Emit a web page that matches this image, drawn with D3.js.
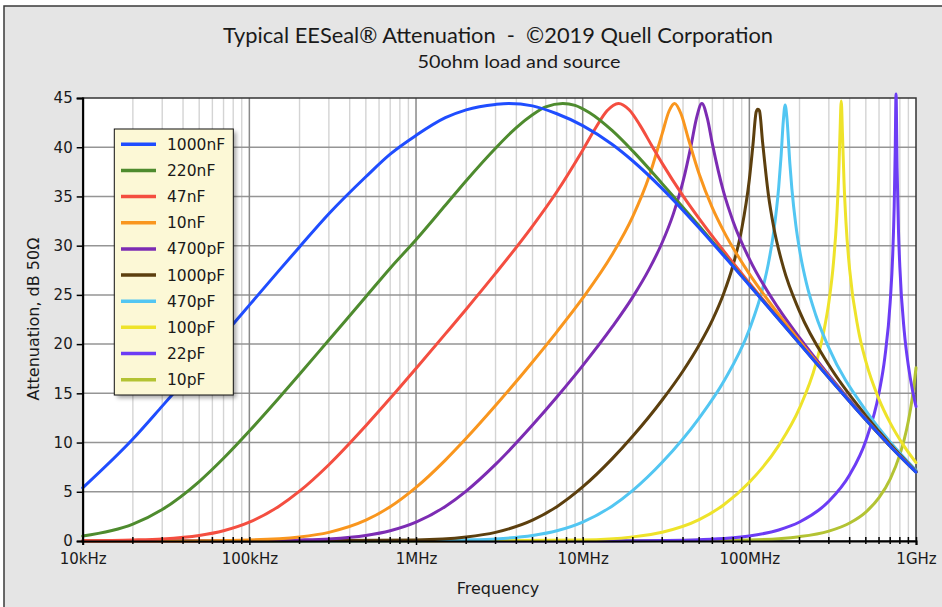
<!DOCTYPE html>
<html>
<head>
<meta charset="utf-8">
<script src="https://cdn.jsdelivr.net/npm/d3@7/dist/d3.min.js"></script>
<style>
  html, body { margin: 0; padding: 0; background: #fff; }
  svg { display: block; }
  text { white-space: pre; }
</style>
</head>
<body>
<div id="chart"></div>
<script>
(function () {
    "use strict";

    // ---- data: [frequency Hz, attenuation dB] ----
    const c1000nF = [[1e4,5.40],[2e4,10.36],[3e4,13.7],[5e4,18.0],[7e4,20.9],[1e5,23.96],[1.5e5,27.44],[2e5,29.87],[3e5,33.24],[5e5,37.0],[7e5,39.3],[1e6,41.2],[1.5e6,43.0],[2e6,43.8],[3e6,44.35],[3.6e6,44.45],[5e6,44.2],[7e6,43.4],[1e7,42.2],[1.5e7,40.3],[2e7,38.6],[3e7,35.8],[5e7,31.8],[7e7,29.0],[1e8,25.98],[2e8,20.05],[3e8,16.58],[5e8,12.31],[7e8,9.63],[1e9,6.99]];
    const c220nF = [[1e4,0.50],[2e4,1.71],[3e4,3.20],[5e4,6.04],[7e4,8.40],[1e5,11.17],[1.5e5,14.50],[2e5,16.93],[3e5,20.42],[5e5,24.81],[7e5,27.71],[1e6,30.6],[1.5e6,34.1],[2e6,36.6],[3e6,39.9],[4e6,42.0],[5e6,43.3],[6e6,44.1],[7.6e6,44.45],[9e6,44.25],[1.1e7,43.5],[1.5e7,41.7],[2e7,39.6],[3e7,36.3],[5e7,32.0],[7e7,29.1],[1e8,26.03],[2e8,20.06],[3e8,16.59],[5e8,12.31],[7e8,9.63],[1e9,6.99]];
    const c47nF = [[1e4,0.02],[2e4,0.10],[3e4,0.21],[5e4,0.56],[7e4,1.04],[1e5,1.91],[1.5e5,3.51],[2e5,5.06],[3e5,7.75],[5e5,11.71],[7e5,14.49],[1e6,17.53],[1.5e6,21.04],[2e6,23.55],[3e6,27.18],[5e6,31.99],[7e6,35.48],[1e7,39.70],[1.2e7,42.0],[1.4e7,43.7],[1.64e7,44.45],[1.9e7,43.8],[2.2e7,42.27],[2.6e7,40.15],[3e7,38.36],[4e7,35.06],[5e7,32.74],[7e7,29.48],[1e8,26.21],[2e8,20.11],[3e8,16.61],[5e8,12.32],[7e8,9.64],[1e9,7.0]];
    const c10nF = [[1e4,0.0],[3e4,0.01],[1e5,0.11],[2e5,0.41],[3e5,0.88],[5e5,2.11],[7e5,3.47],[1e6,5.44],[1.5e6,8.22],[2e6,10.43],[3e6,13.76],[5e6,18.19],[7e6,21.25],[1e7,24.66],[1.5e7,29.07],[2e7,32.98],[2.5e7,37.0],[3e7,41.38],[3.3e7,43.68],[3.56e7,44.45],[3.9e7,43.35],[4.3e7,40.89],[5e7,37.27],[6e7,33.84],[7e7,31.5],[1e8,27.13],[1.5e8,23.03],[2e8,20.33],[3e8,16.70],[5e8,12.35],[7e8,9.65],[1e9,7.0]];
    const c4700pF = [[1e4,0.0],[1e5,0.02],[2e5,0.10],[3e5,0.21],[5e5,0.56],[7e5,1.04],[1e6,1.91],[1.5e6,3.51],[2e6,5.07],[3e6,7.78],[5e6,11.78],[7e6,14.63],[1e7,17.82],[1.5e7,21.72],[2e7,24.8],[2.5e7,27.59],[3e7,30.32],[3.5e7,33.23],[4e7,36.52],[4.5e7,40.42],[4.8e7,42.83],[5.19e7,44.45],[5.6e7,42.92],[6e7,40.34],[7e7,35.48],[8e7,32.44],[1e8,28.65],[1.5e8,23.6],[2e8,20.65],[3e8,16.84],[5e8,12.40],[7e8,9.67],[1e9,7.01]];
    const c1000pF = [[1e4,0.0],[1e5,0.0],[1e6,0.11],[2e6,0.41],[3e6,0.88],[5e6,2.11],[7e6,3.49],[1e7,5.49],[1.5e7,8.34],[2e7,10.66],[3e7,14.32],[4e7,17.27],[5e7,19.91],[6e7,22.44],[7e7,25.09],[8e7,28.06],[9e7,31.69],[1e8,36.72],[1.05e8,40.16],[1.1e8,43.6],[1.125e8,43.85],[1.15e8,43.7],[1.2e8,40.57],[1.3e8,35.23],[1.4e8,31.89],[1.6e8,27.79],[2e8,23.33],[3e8,17.87],[5e8,12.74],[7e8,9.83],[1e9,7.08]];
    const c470pF = [[1e4,0.0],[1e6,0.02],[2e6,0.10],[3e6,0.21],[5e6,0.56],[7e6,1.04],[1e7,1.92],[1.5e7,3.54],[2e7,5.15],[3e7,8.0],[5e7,12.49],[7e7,16.17],[1e8,21.48],[1.2e8,25.6],[1.3e8,28.17],[1.4e8,31.41],[1.5e8,35.93],[1.55e8,39.06],[1.6e8,42.73],[1.64e8,44.3],[1.68e8,43.01],[1.75e8,38.36],[1.8e8,35.77],[1.9e8,32.11],[2e8,29.6],[2.2e8,26.19],[2.5e8,22.99],[3e8,19.62],[5e8,13.25],[7e8,10.07],[1e9,7.19]];
    const c100pF = [[1e4,0.0],[1e6,0.0],[1e7,0.11],[2e7,0.42],[3e7,0.89],[5e7,2.17],[7e7,3.66],[1e8,5.96],[1.5e8,9.69],[2e8,13.49],[2.5e8,17.91],[2.8e8,21.33],[3e8,24.26],[3.2e8,28.33],[3.35e8,33.02],[3.45e8,38.03],[3.5e8,41.51],[3.56e8,44.7],[3.62e8,41.41],[3.7e8,36.44],[3.8e8,32.37],[4e8,27.53],[4.5e8,21.52],[5e8,18.25],[6e8,14.39],[7e8,12.0],[8.5e8,9.61],[1e9,7.96]];
    const c22pF = [[1e4,0.0],[1e7,0.0],[3e7,0.05],[5e7,0.13],[1e8,0.51],[1.5e8,1.12],[2e8,1.93],[3e8,4.03],[4e8,6.73],[5e8,10.19],[6e8,15.05],[6.5e8,18.64],[7e8,24.25],[7.25e8,29.12],[7.4e8,34.03],[7.5e8,39.48],[7.59e8,45.4],[7.7e8,37.95],[7.85e8,31.54],[8e8,27.83],[8.5e8,21.31],[9e8,17.79],[9.5e8,15.42],[1e9,13.66]];
    const c10pF = [[1e4,0.0],[1e7,0.0],[1e8,0.11],[2e8,0.44],[3e8,1.0],[4e8,1.83],[5e8,2.94],[6e8,4.40],[7e8,6.29],[8e8,8.77],[8.5e8,10.32],[9e8,12.19],[9.5e8,14.52],[1e9,17.59]];

    const seriesNames = ["1000nF", "220nF", "47nF", "10nF", "4700pF", "1000pF", "470pF", "100pF", "22pF", "10pF"];
    const seriesData = [c1000nF, c220nF, c47nF, c10nF, c4700pF, c1000pF, c470pF, c100pF, c22pF, c10pF];
    const seriesColors = ["#1f4dff", "#4e8b2e", "#f44e40", "#f9961e", "#7c2cb3", "#5c3f0e", "#52c6f2", "#eee32a", "#6c3cf5", "#b3c333"];

    const xTicks = [1e4, 1e5, 1e6, 1e7, 1e8, 1e9];
    const xTickLabels = ["10kHz", "100kHz", "1MHz", "10MHz", "100MHz", "1GHz"];
    const yTicks = [0, 5, 10, 15, 20, 25, 30, 35, 40, 45];

    // ---- layout ----
    const W = 942, H = 607;
    const plot = { left: 82.7, right: 916, top: 98, bottom: 541 };

    const svg = d3.select("#chart").append("svg")
        .attr("width", W).attr("height", H);

    // outer grey panel
    svg.append("rect")
        .attr("x", 4).attr("y", 6).attr("width", W + 10).attr("height", H + 10)
        .attr("fill", "#e5e5e5").attr("stroke", "#3a3a3a").attr("stroke-width", 1.5);

    const x = d3.scaleLog().domain([1e4, 1e9]).range([plot.left, plot.right]);
    const y = d3.scaleLinear().domain([0, 45]).range([plot.bottom, plot.top]);

    svg.append("rect")
        .attr("x", plot.left).attr("y", plot.top)
        .attr("width", plot.right - plot.left).attr("height", plot.bottom - plot.top)
        .attr("fill", "#fff");

    // ---- grid ----
    const minor = [];
    for (let e = 4; e < 9; e++) for (let m = 2; m <= 9; m++) minor.push(m * Math.pow(10, e));

    const grid = svg.append("g");
    grid.selectAll("line.minor").data(minor).join("line")
        .attr("x1", d => x(d)).attr("x2", d => x(d))
        .attr("y1", plot.top).attr("y2", plot.bottom)
        .attr("stroke", "#d4d4d4").attr("stroke-width", 1.4);
    grid.selectAll("line.hz").data(yTicks.slice(1, -1)).join("line")
        .attr("x1", plot.left).attr("x2", plot.right)
        .attr("y1", d => y(d)).attr("y2", d => y(d))
        .attr("stroke", "#959595").attr("stroke-width", 1.5);
    grid.selectAll("line.major").data(xTicks.slice(1, -1)).join("line")
        .attr("x1", d => x(d)).attr("x2", d => x(d))
        .attr("y1", plot.top).attr("y2", plot.bottom)
        .attr("stroke", "#8a8a8a").attr("stroke-width", 1.5);

    // plot frame (top / right)
    svg.append("rect")
        .attr("x", plot.left).attr("y", plot.top)
        .attr("width", plot.right - plot.left).attr("height", plot.bottom - plot.top)
        .attr("fill", "none").attr("stroke", "#333").attr("stroke-width", 1.5);

    // ---- curves ----
    const line = d3.line()
        .x(d => x(d[0]))
        .y(d => y(d[1]))
        .curve(d3.curveMonotoneX);

    const curves = svg.append("g");
    // draw last legend entry first so the 1000nF curve ends up on top
    for (let i = seriesData.length - 1; i >= 0; i--) {
        curves.append("path")
            .attr("d", line(seriesData[i]))
            .attr("fill", "none")
            .attr("stroke", seriesColors[i])
            .attr("stroke-width", 3)
            .attr("stroke-linejoin", "round")
            .attr("stroke-linecap", "round");
    }

    // ---- axes ----
    const font = "'DejaVu Sans', Verdana, sans-serif";

    const yAxis = svg.append("g")
        .attr("transform", `translate(${plot.left},0)`)
        .call(d3.axisLeft(y).tickValues(yTicks).tickSize(6).tickPadding(4));
    yAxis.select(".domain").attr("stroke", "#000").attr("stroke-width", 2);
    yAxis.selectAll(".tick line").attr("stroke", "#000").attr("stroke-width", 1.5);
    yAxis.selectAll(".tick text").attr("font-family", font).attr("font-size", 15).attr("fill", "#1a1a1a");

    const xAxis = svg.append("g")
        .attr("transform", `translate(0,${plot.bottom})`)
        .call(d3.axisBottom(x).tickValues(xTicks).tickFormat((d, i) => xTickLabels[i]).tickSize(4).tickPadding(8));
    xAxis.select(".domain").attr("stroke", "#000").attr("stroke-width", 2);
    xAxis.selectAll(".tick line").attr("stroke", "#000").attr("stroke-width", 1.5).attr("y1", -4);
    xAxis.selectAll(".tick text").attr("font-family", font).attr("font-size", 15).attr("fill", "#1a1a1a");

    // minor x ticks crossing the axis
    svg.append("g").selectAll("line").data(minor).join("line")
        .attr("x1", d => x(d)).attr("x2", d => x(d))
        .attr("y1", plot.bottom - 4).attr("y2", plot.bottom + 3)
        .attr("stroke", "#000").attr("stroke-width", 1.5);

    // ---- titles ----
    svg.append("text")
        .attr("x", 498).attr("y", 43)
        .attr("text-anchor", "middle")
        .attr("font-family", "Lato, 'Open Sans', sans-serif").attr("font-size", 21)
        .attr("fill", "#1a1a1a")
        .attr("textLength", 550).attr("lengthAdjust", "spacingAndGlyphs")
        .text("Typical EESeal\u00ae Attenuation  -  \u00a92019 Quell Corporation");

    svg.append("text")
        .attr("x", 519).attr("y", 68)
        .attr("text-anchor", "middle")
        .attr("font-family", "Lato, 'Open Sans', sans-serif").attr("font-size", 18)
        .attr("fill", "#1a1a1a")
        .attr("textLength", 203).attr("lengthAdjust", "spacingAndGlyphs")
        .text("50ohm load and source");

    svg.append("text")
        .attr("transform", "translate(39,319) rotate(-90)")
        .attr("text-anchor", "middle")
        .attr("font-family", font).attr("font-size", 16)
        .attr("fill", "#1a1a1a")
        .text("Attenuation, dB 50\u03a9");

    svg.append("text")
        .attr("x", 498).attr("y", 594)
        .attr("text-anchor", "middle")
        .attr("font-family", font).attr("font-size", 16)
        .attr("fill", "#1a1a1a")
        .text("Frequency");

    // ---- legend ----
    const lg = { x: 114.3, y: 129, w: 119, h: 266, row: 26.15, first: 144.3 };
    const defs = svg.append("defs");
    const f = defs.append("filter").attr("id", "shadow").attr("x", "-20%").attr("y", "-20%").attr("width", "140%").attr("height", "140%");
    f.append("feGaussianBlur").attr("stdDeviation", 2);

    svg.append("rect")
        .attr("x", lg.x + 3).attr("y", lg.y + 3).attr("width", lg.w).attr("height", lg.h)
        .attr("fill", "rgba(0,0,0,0.35)").attr("filter", "url(#shadow)");
    svg.append("rect")
        .attr("x", lg.x).attr("y", lg.y).attr("width", lg.w).attr("height", lg.h)
        .attr("fill", "#fcf8d6").attr("stroke", "#111").attr("stroke-width", 1);

    const items = svg.append("g").selectAll("g")
        .data(seriesNames)
        .join("g")
        .attr("transform", (d, i) => `translate(0,${lg.first + i * lg.row})`);
    items.append("line")
        .attr("x1", 121).attr("x2", 156)
        .attr("stroke", (d, i) => seriesColors[i]).attr("stroke-width", 3.5);
    items.append("text")
        .attr("x", 167).attr("dy", "0.36em")
        .attr("font-family", font).attr("font-size", 15.5)
        .attr("fill", "#1a1a1a")
        .text(d => d);
})();
</script>
</body>
</html>
